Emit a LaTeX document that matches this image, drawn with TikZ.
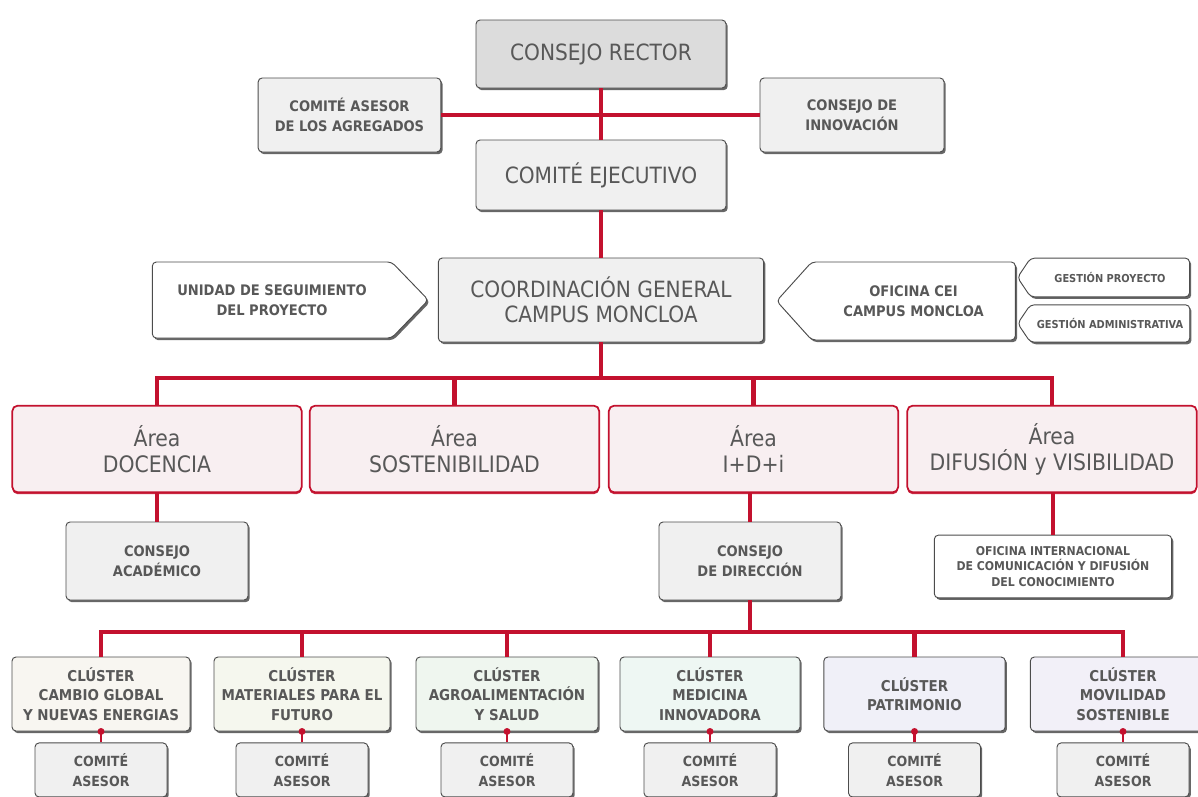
\documentclass[tikz,border=0pt]{standalone}
\usepackage{fontspec}
\setmainfont{DejaVu Sans Condensed}
\usetikzlibrary{positioning, shapes.symbols, shadows}

\definecolor{rojo}{HTML}{C3112E}
\definecolor{texto}{HTML}{585858}
\definecolor{borde}{HTML}{4C4C4C}
\definecolor{gris}{HTML}{F0F0F0}
\definecolor{grisrector}{HTML}{DCDCDC}
\definecolor{rosa}{HTML}{F8EFF1}
\definecolor{clA}{HTML}{F8F6F1}
\definecolor{clB}{HTML}{F5F7EE}
\definecolor{clC}{HTML}{EFF6EF}
\definecolor{clD}{HTML}{EEF7F3}
\definecolor{clE}{HTML}{F0F0F8}
\definecolor{clF}{HTML}{F2F0F8}

\tikzset{
  caja/.style={draw=borde, line width=0.7pt, rounded corners=3pt, fill=gris,
    text=texto, align=center, inner sep=1pt,
    drop shadow={shadow xshift=1.3pt, shadow yshift=-1.6pt, fill=borde, opacity=0.85}},
  grande/.style={font=\fontsize{16.8}{18.8}\selectfont},
  chica/.style={font=\bfseries\fontsize{10.9}{15}\selectfont},
  mini/.style={font=\bfseries\fontsize{8.2}{10}\selectfont},
  area/.style={draw=rojo, line width=1.3pt, rounded corners=4pt, fill=rosa,
    text=texto, align=center, minimum width=217pt, minimum height=65pt,
    font=\fontsize{17}{19.5}\selectfont,
    drop shadow={shadow xshift=0pt, shadow yshift=-1.4pt, fill=rojo, opacity=0.9}},
  cluster/.style={caja, minimum height=55.5pt,
    font=\bfseries\fontsize{11.2}{14.6}\selectfont},
  comite/.style={caja, minimum width=99pt, minimum height=40.5pt,
    font=\bfseries\fontsize{10.5}{14.5}\selectfont},
  flecha/.style={caja, shape=signal, signal from=nowhere, fill=white},
  enlace/.style={draw=rojo, line width=3.6pt},
  enlacefino/.style={draw=rojo, line width=2pt}
}

\begin{document}
\begin{tikzpicture}[x=0.75pt, y=-0.75pt]
\useasboundingbox (0,0) rectangle (1198,796);

% organos de gobierno
\node (CR) [caja, grande, fill=grisrector, minimum width=187.5pt, minimum height=51pt] at (601,54) {CONSEJO RECTOR};
\node (CA) [caja, chica, minimum width=137pt, minimum height=55.5pt] at (349.5,115) {COMITÉ ASESOR\\DE LOS AGREGADOS};
\node (CI) [caja, chica, minimum width=138pt, minimum height=55.5pt] at (852,115) {CONSEJO DE\\INNOVACIÓN};
\node (CE) [caja, grande, minimum width=187.5pt, minimum height=52.5pt] at (601,175) {COMITÉ EJECUTIVO};
\node (CG) [caja, grande, minimum width=244pt, minimum height=63pt] at (601,300) {COORDINACIÓN GENERAL\\CAMPUS MONCLOA};

% unidades de apoyo
\node (US) [flecha, chica, signal to=east, signal pointer angle=92, minimum width=207pt, minimum height=57pt] at (272,300) {UNIDAD DE SEGUIMIENTO\\DEL PROYECTO};
\node (OC) [flecha, chica, signal to=west, signal pointer angle=96, minimum width=179pt, minimum height=58.5pt] at (913.5,301) {OFICINA CEI\\CAMPUS MONCLOA};
\node (GP) [flecha, mini, signal to=west, signal pointer angle=112, minimum width=129pt, minimum height=29pt] at (1110,277.5) {GESTIÓN PROYECTO};
\node (GA) [flecha, mini, signal to=west, signal pointer angle=112, minimum width=129pt, minimum height=28pt] at (1110,323.5) {GESTIÓN ADMINISTRATIVA};

% areas
\node (AD) [area] at (157,449) {Área\\DOCENCIA};
\node (AS) [area] at (454.5,449) {Área\\SOSTENIBILIDAD};
\node (AI) [area] at (753.5,449) {Área\\I+D+i};
\node (AV) [area] at (1052,449) {Área\\DIFUSIÓN y VISIBILIDAD};

\node (CAc) [caja, chica, minimum width=136.5pt, minimum height=58.5pt] at (157,561) {CONSEJO\\ACADÉMICO};
\node (CD) [caja, chica, minimum width=136.5pt, minimum height=58.5pt] at (750,561) {CONSEJO\\DE DIRECCIÓN};
\node (OI) [caja, font=\bfseries\fontsize{9.1}{11.6}\selectfont, fill=white, minimum width=178pt, minimum height=47pt] at (1053,566.5) {OFICINA INTERNACIONAL\\DE COMUNICACIÓN Y DIFUSIÓN\\DEL CONOCIMIENTO};

% clusters
\node (CL1) [cluster, fill=clA, minimum width=133.5pt] at (101,694) {CLÚSTER\\CAMBIO GLOBAL\\Y NUEVAS ENERGIAS};
\node (CL2) [cluster, fill=clB, minimum width=132pt] at (302,694) {CLÚSTER\\MATERIALES PARA EL\\FUTURO};
\node (CL3) [cluster, fill=clC, minimum width=136.5pt] at (507,694) {CLÚSTER\\AGROALIMENTACIÓN\\Y SALUD};
\node (CL4) [cluster, fill=clD, minimum width=135pt] at (710,694) {CLÚSTER\\MEDICINA\\INNOVADORA};
\node (CL5) [cluster, fill=clE, minimum width=136pt] at (914.5,694) {CLÚSTER\\PATRIMONIO};
\node (CL6) [cluster, fill=clF, minimum width=139pt] at (1123,694) {CLÚSTER\\MOVILIDAD\\SOSTENIBLE};

\foreach \i in {1,...,6}
  \node (CM\i) [comite, below=8.25pt of CL\i] {COMITÉ\\ASESOR};

% conexiones
\coordinate (busA) at (601,378);
\coordinate (busC) at (750,632);

\draw[enlace] (CR.south) -- (CE.north);
\draw[enlace] (CA.east) -- (CI.west);
\draw[enlace] (CE.south) -- (CG.north);
\draw[enlace] (CG.south) -- (busA);
\foreach \a in {AD,AS,AI,AV}
  \draw[enlace] (busA) -| (\a.north);
\draw[enlace] (AD.south) -- (CAc.north);
\draw[enlace] (CD.north |- AI.south) -- (CD.north);
\draw[enlace] (OI.north |- AV.south) -- (OI.north);
\draw[enlace] (CD.south) -- (busC);
\foreach \i in {1,...,6}
  \draw[enlace] (busC) -| (CL\i.north);
\foreach \i in {1,...,6} {
  \draw[enlacefino] (CL\i.south) -- (CM\i.north);
  \fill[rojo] (CL\i.south) circle (2.6pt);
}

\end{tikzpicture}
\end{document}
